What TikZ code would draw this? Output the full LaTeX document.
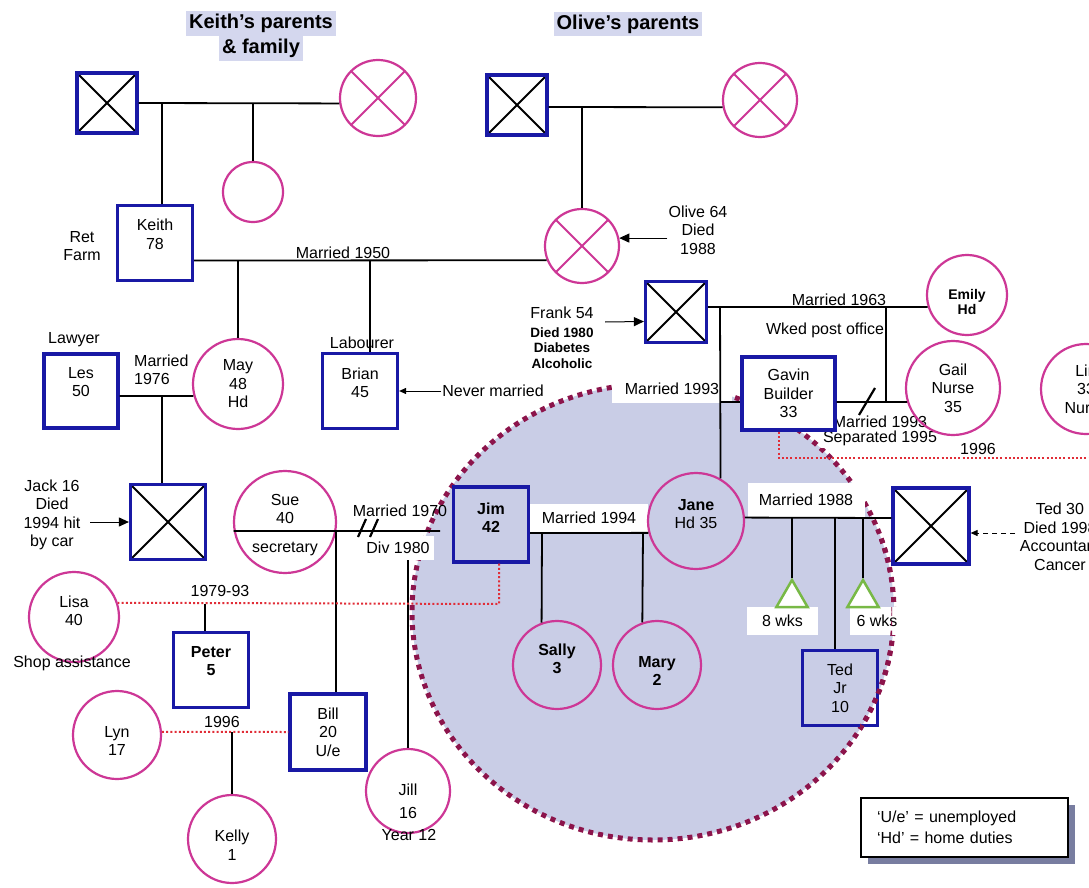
\documentclass[tikz,border=0pt]{standalone}
\usepackage{fontspec}
\setmainfont{Liberation Sans}
\usetikzlibrary{arrows.meta,shapes.geometric,shadows}

\definecolor{sqblue}{RGB}{25,25,165}
\definecolor{fempink}{RGB}{205,55,150}
\definecolor{lav}{RGB}{201,205,230}
\definecolor{hilite}{RGB}{212,215,238}
\definecolor{rimdot}{RGB}{140,20,75}
\definecolor{reldot}{RGB}{225,45,55}
\definecolor{lossgreen}{RGB}{120,185,70}
\definecolor{shadowc}{RGB}{120,125,160}

\newcommand{\stdfont}{\fontsize{16}{18.5}\selectfont}
\newcommand{\smallbold}{\fontsize{13.5}{15.5}\selectfont\bfseries}
\newcommand{\emfont}{\fontsize{14}{15}\selectfont\bfseries}

\begin{document}
\begin{tikzpicture}[x=1pt,y=-1pt,
  every node/.style={font=\stdfont},
  txt/.style={align=center, inner sep=1pt},
  boldtxt/.style={font=\stdfont\bfseries},
  sq/.style={draw=sqblue, line width=3.2pt, rectangle, inner sep=0pt, minimum size=#1},
  sq/.default=75pt,
  ci/.style={draw=fempink, line width=2.2pt, circle, inner sep=0pt, minimum size=#1},
  ci/.default=88pt,
  blackx/.style={path picture={\draw[black,line width=1.8pt]
      (path picture bounding box.north west) -- (path picture bounding box.south east)
      (path picture bounding box.north east) -- (path picture bounding box.south west);}},
  pinkx/.style={path picture={\draw[fempink,line width=1.8pt]
      (path picture bounding box.north west) -- (path picture bounding box.south east)
      (path picture bounding box.north east) -- (path picture bounding box.south west);}},
  link/.style={draw=black, line width=1.8pt},
  reldots/.style={draw=reldot, line width=2pt, dash pattern=on 2pt off 2.2pt},
  rim/.style={draw=rimdot, line width=5pt, dash pattern=on 5pt off 5pt},
  wlabel/.style={txt, fill=white},
  ptr/.style={draw=black, line width=1pt, -{Triangle[length=10pt,width=9pt]}},
  ptrsmall/.style={draw=black, line width=1pt, -{Triangle[length=7pt,width=6pt]}},
  loss/.style={regular polygon, regular polygon sides=3, draw=lossgreen,
      line width=2.5pt, fill=white, inner sep=0pt, minimum size=36pt},
]
\useasboundingbox (0,0) rectangle (1089,888);
\clip (0,0) rectangle (1089,888);
\fill[white] (0,0) rectangle (1089,888);

% household of Jim and Jane
\fill[lav] (653,612) ellipse [x radius=241pt, y radius=228pt];
\draw[rim] (653,612) ellipse [x radius=241pt, y radius=228pt];

% headings
\node[align=center, inner sep=0pt, font=\fontsize{20}{25}\selectfont\bfseries]
  (ktitle) at (261,36) {\colorbox{hilite}{Keith's parents}\\\colorbox{hilite}{\& family}};
\node[inner sep=0pt, font=\fontsize{20}{25}\selectfont\bfseries]
  (otitle) at (628,24) {\colorbox{hilite}{Olive's parents}};

% white-backed labels
\node[wlabel, minimum width=120pt, minimum height=27pt] (m1993a) at (672,389) {Married 1993};
\node[wlabel, inner sep=2pt] (wked) at (825,330) {Wked post office};
\node[wlabel, inner sep=2pt, font=\fontsize{16}{15.5}\selectfont] (m1993b) at (880,431) {Married 1993\\Separated 1995};
\node[wlabel, minimum width=117pt, minimum height=34pt] (m1988) at (806,500) {Married 1988};
\node[wlabel, minimum width=118pt, minimum height=28pt] (m1994) at (589,518) {Married 1994};
\node[wlabel, inner xsep=4pt, inner ysep=6pt] (div) at (398,548) {Div 1980};
\node[wlabel, minimum width=71pt, minimum height=28pt] (wkA) at (782.5,621) {8 wks};
\node[wlabel, minimum width=54pt, minimum height=28pt] (wkB) at (877,621) {6 wks};

% Keith's parents and sister
\node[sq=60pt, blackx] (kfa) at (107,103) {};
\node[ci=76pt, pinkx] (kmo) at (378,98) {};
\node[ci=60pt] (ksis) at (253,192) {};

% Olive's parents
\node[sq=60pt, blackx] (ofa) at (517,105) {};
\node[ci=74pt, pinkx] (omo) at (760,100) {};

% Keith, Olive and their children
\node[sq=75pt, label={[txt, name=keithT, yshift=8.5pt]center:{Keith\\78}}] (keith) at (155,243) {};
\node[ci=74pt, pinkx] (olive) at (582,246) {};
\node[ci=90pt, label={[txt, name=mayT]center:{May\\48\\Hd}}] (may) at (238,384) {};
\node[sq=74pt, label={[txt, name=lesT, yshift=9pt]center:{Les\\50}}] (les) at (81,391) {};
\node[sq=75pt, label={[txt, name=brianT, yshift=8pt]center:{Brian\\45}}] (brian) at (360,391) {};
\node[sq=75pt, blackx] (jack) at (168,522) {};

% Frank and Emily's family
\node[sq=61pt, blackx] (frank) at (676,312) {};
\node[ci=80pt, label={[txt, font=\emfont, name=emilyT, yshift=-7pt]center:{Emily\\Hd}}] (emily) at (967,295) {};
\node[draw=sqblue, line width=3.2pt, rectangle, fill=white, minimum width=93pt, minimum height=73pt,
  label={[txt, name=gavinT]center:{Gavin\\Builder\\33}}] (gavin) at (788.5,393.5) {};
\node[ci=94pt, label={[txt, name=gailT]center:{Gail\\Nurse\\35}}] (gail) at (953,388) {};
\node[ci=90pt, label={[txt, name=linT]center:{Lin\\33\\Nurse}}] (lin) at (1086,389) {};

% Jim, Jane and their households
\node[ci=102pt, label={[txt, name=sueT, yshift=-3pt]center:{Sue\\40\\[10pt]secretary}}] (sue) at (285,522) {};
\node[sq=75pt, label={[txt, boldtxt, name=jimT, yshift=7pt]center:{Jim\\42}}] (jim) at (491,524.5) {};
\node[ci=96pt, label={[txt, name=janeT, yshift=7pt]center:{\textbf{Jane}\\Hd 35}}] (jane) at (696,521) {};
\node[sq=76pt, blackx] (ted) at (931,526) {};
\node[ci=88pt, label={[txt, boldtxt, name=sallyT, yshift=6pt]center:{Sally\\3}}] (sally) at (557,665) {};
\node[ci=88pt, label={[txt, boldtxt, name=maryT, yshift=-6pt]center:{Mary\\2}}] (mary) at (657,665) {};
\node[loss] (lossA) at (792,598) {};
\node[loss] (lossB) at (863,598) {};
\node[sq=75pt, label={[txt, name=tedjrT]center:{Ted\\Jr\\10}}] (tedjr) at (840,688) {};
\node[sq=76pt, label={[txt, name=billT]center:{Bill\\20\\U/e}}] (bill) at (328,732) {};
\node[ci=84pt, label={[txt, name=jillT, yshift=-10pt]center:{Jill\\[4.5pt]16}}] (jill) at (408,791) {};
\node[ci=90pt, label={[txt, name=lisaT, yshift=6pt]center:{Lisa\\40}}] (lisa) at (74,617) {};
\node[sq=75pt, label={[txt, boldtxt, name=peterT, yshift=9pt]center:{Peter\\5}}] (peter) at (211,670) {};
\node[ci=88pt, label={[txt, name=lynT, yshift=-6pt]center:{Lyn\\17}}] (lyn) at (117,735) {};
\node[ci=88pt, label={[txt, name=kellyT, yshift=-6pt]center:{Kelly\\1}}] (kelly) at (232,839) {};

% free text
\node[txt] (retfarm) at (82,246) {Ret\\Farm};
\node[txt, anchor=base] (m1950) at (343,258) {Married 1950};
\node[txt, anchor=base] (m1963) at (839,305) {Married 1963};
\node[txt] (oliveT) at (698,230) {Olive 64\\Died\\1988};
\node[txt] (frankT) at (562,338) {Frank 54\\{\smallbold Died 1980}\\[-3pt]{\smallbold Diabetes}\\[-3pt]{\smallbold Alcoholic}};
\node[txt] (lawyer) at (74,340) {Lawyer};
\node[txt, align=left, anchor=west] (m1976) at (133,370) {Married\\1976};
\node[txt] (labourer) at (362,343) {Labourer};
\node[txt] (never) at (493,391) {Never married};
\node[txt] (jackT) at (52,515) {Jack 16\\Died\\1994 hit\\by car};
\node[txt] (y1996b) at (978,449) {1996};
\node[txt] (m1970) at (400,511) {Married 1970};
\node[txt] (y7993) at (220,591) {1979-93};
\node[txt] (shop) at (72,663) {Shop assistance};
\node[txt] (y1996a) at (222,722) {1996};
\node[txt] (year12) at (409,835) {Year 12};
\node[txt] (tedT) at (1060,537) {Ted 30\\Died 1998\\Accountant\\Cancer};

% free ends of connectors
\coordinate (kp1) at (162,103);
\coordinate (kp2) at (253,103);
\coordinate (op1) at (582,107);
\coordinate (ko1) at (238,260);
\coordinate (ko2) at (370,260);
\coordinate (lm1) at (162,396);
\coordinate (fe1) at (720,307);
\coordinate (fe2) at (886,307);
\coordinate (gg1) at (886,402);
\coordinate (gv1) at (720,402);
\coordinate (sj1) at (336,531);
\coordinate (sjEnd) at (440,531);
\coordinate (jj1) at (542,533);
\coordinate (jj2) at (643,533);
\coordinate (jt1) at (792,518);
\coordinate (jt2) at (835,518);
\coordinate (jt3) at (863,518);
\coordinate (jimD) at (499,604);
\coordinate (lp1) at (205,604);
\coordinate (lb1) at (232,732);
\coordinate (gavD) at (779,458);
\coordinate (gavE) at (1089,458);
\coordinate (jackA) at (90,522);
\coordinate (frankA0) at (605,322);
\coordinate (frankA) at ([yshift=-9.5pt]frank.west);
\coordinate (tedA0) at (1015,533);

% partnerships
\draw[link] (kfa.east) -- (kmo.188);
\draw[link] ([yshift=-2pt]ofa.east) -- (omo.191);
\draw[link] ([yshift=-17.5pt]keith.east) -- (olive.202);
\draw[link] ([yshift=-5pt]les.east) -- (may.195);
\draw[link] ([yshift=5pt]frank.east) -- (emily.197);
\draw[link] ([yshift=-8.5pt]gavin.east) -- (gail.197);
\draw[link] (gv1) -- ([yshift=-8.5pt]gavin.west);
\draw[link] (sue.190) -- (sjEnd);
\draw[link] ([yshift=-8.5pt]jim.east) -- (jane.194);
\draw[link] (jane.4) -- ([yshift=8pt]ted.west);

% separation and divorce marks
\draw[link, line width=2.2pt] (859,415) -- (875,388);
\draw[link, line width=2.2pt] (358,537) -- (366,519) (370,537) -- (378,519);

% descent lines
\draw[link] (kp1) -- (kp1 |- keith.north);
\draw[link] (kp2) -- (ksis.north);
\draw[link] (op1) -- (olive.north);
\draw[link] (ko1) -- (may.north);
\draw[link] (ko2) -- (ko2 |- brian.north);
\draw[link] (lm1) -- (lm1 |- jack.north);
\draw[link] (fe1) -- (jane.60);
\draw[link] (fe2) -- (gg1);
\draw[link] (sj1) -- (sj1 |- bill.north);
\draw[link] (jill.north |- div.south) -- (jill.north);
\draw[link] (jj1) -- (sally.110);
\draw[link] (jj2) -- (mary.109);
\draw[link] (jt1) -- (lossA.corner 1);
\draw[link] (jt2) -- (jt2 |- tedjr.north);
\draw[link] (jt3) -- (lossB.corner 1);

% other relationships
\draw[reldots] ([xshift=8pt]jim.south) -- (jimD) -- (lisa.18);
\draw[link] (lp1) -- (lp1 |- peter.north);
\draw[reldots] (lyn.4) -- (bill.west);
\draw[link] (lb1) -- (kelly.north);
\draw[reldots] ([xshift=-9.5pt]gavin.south) -- (gavD) -- (gavE);

% pointers from notes
\draw[ptr] (jackA) -- (jack.west);
\draw[ptrsmall] (never.west) -- (brian.east);
\draw[ptr] (oliveT.west |- olive.12) -- (olive.12);
\draw[ptr] (frankA0) -- (frankA);
\draw[ptrsmall, dash pattern=on 5pt off 4pt] (tedA0) -- ([yshift=-7pt]ted.east);

% household rim over the lower right boxes
\begin{scope}
  \clip (860,540) rectangle (892,760);
  \draw[rim] (653,612) ellipse [x radius=241pt, y radius=228pt];
\end{scope}

% key
\node[draw=black, line width=1.2pt, fill=white, align=left, inner xsep=16pt,
  text width=175pt, minimum height=59pt,
  general shadow={fill=shadowc, shadow xshift=7pt, shadow yshift=-7pt}]
  (legend) at (964.5,827.5) {`U/e' = unemployed\\[2.5pt]`Hd' = home duties};
\end{tikzpicture}
\end{document}
